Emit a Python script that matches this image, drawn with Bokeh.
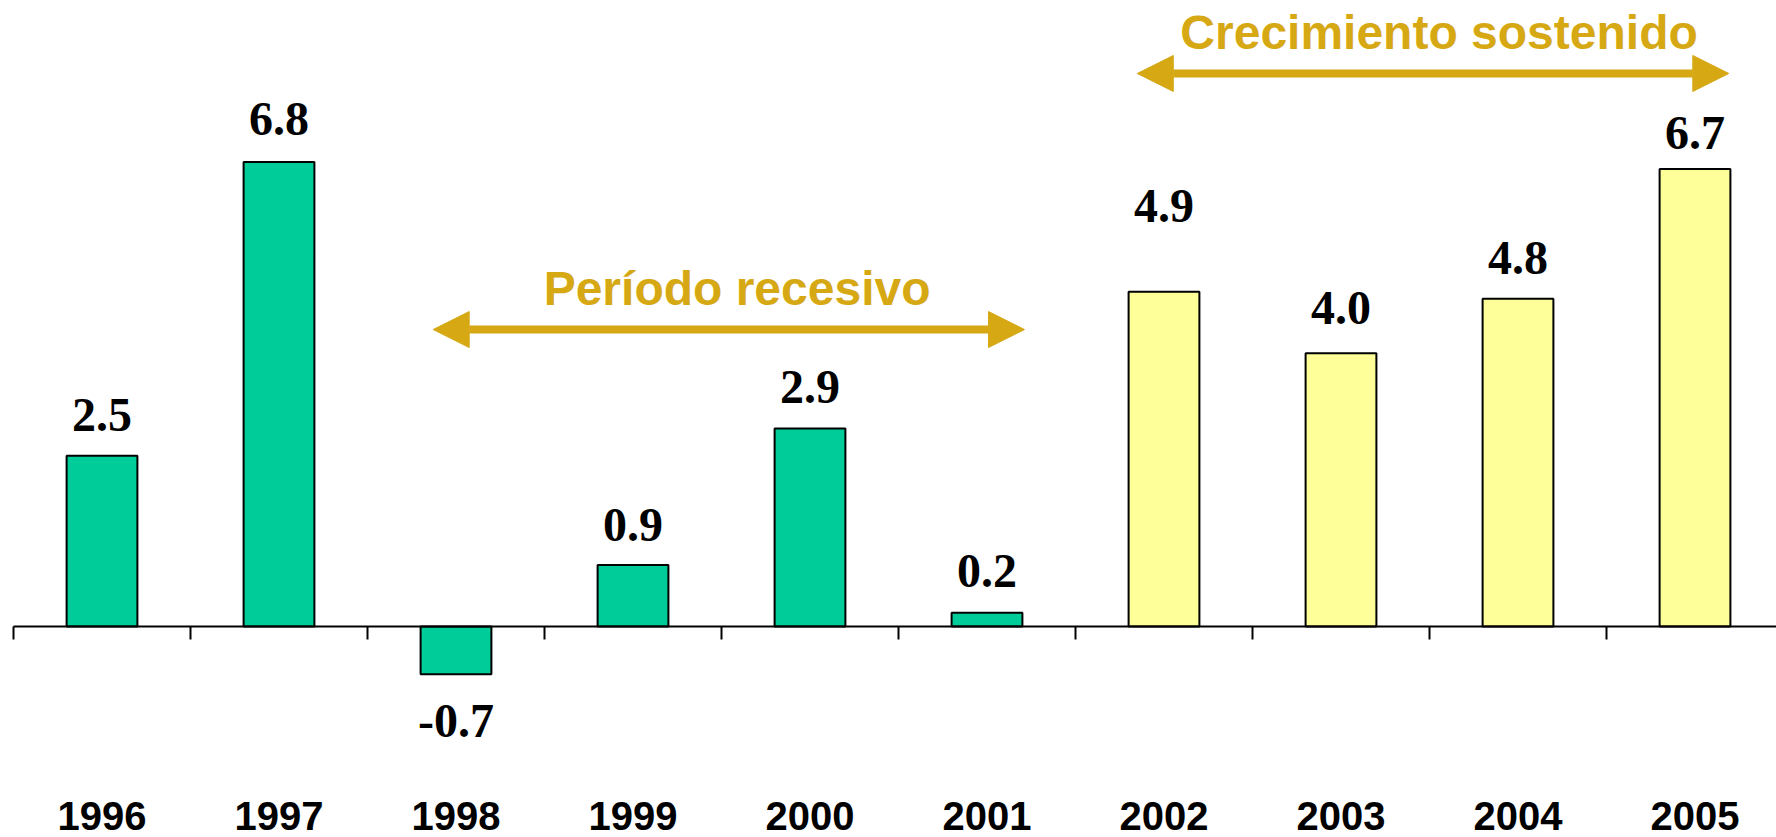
from bokeh.plotting import figure
from bokeh.models import Range1d, Arrow, NormalHead, ColumnDataSource
from bokeh.core.properties import value
from bokeh.embed import file_html
from bokeh.resources import INLINE

# ---- data ----
years = ["1996", "1997", "1998", "1999", "2000", "2001", "2002", "2003", "2004", "2005"]
growth = [2.5, 6.8, -0.7, 0.9, 2.9, 0.2, 4.9, 4.0, 4.8, 6.7]
value_labels = ["2.5", "6.8", "-0.7", "0.9", "2.9", "0.2", "4.9", "4.0", "4.8", "6.7"]
# where each value label is centred (data units)
label_y = [3.10, 7.43, -1.38, 1.49, 3.50, 0.81, 6.16, 4.66, 5.40, 7.23]

period_names = ["Período recesivo", "Crecimiento sostenido"]
period_start = [2.371, 6.349]   # in category-index units
period_end = [5.712, 9.691]
period_level = [4.348, 8.097]
period_text_x = [4.088, 8.054]
period_text_y = [4.95, 8.70]

GREEN = "#00CC99"
YELLOW = "#FFFF99"
GOLD = "#D6A814"

x = [i + 0.5 for i in range(len(years))]
colors = [GREEN if int(y) < 2002 else YELLOW for y in years]

W, H = 1776, 837
ZERO_PX = 626        # pixel row of the zero line
LEFT_PX = 13         # pixel column of the first category boundary
CAT_PX = 177         # pixel width of one category
PX_PER_UNIT = 68.3

p = figure(width=W, height=H, output_backend="svg", toolbar_location=None,
           x_range=Range1d(-LEFT_PX / CAT_PX, (W - LEFT_PX) / CAT_PX),
           y_range=Range1d(-(H - ZERO_PX) / PX_PER_UNIT, ZERO_PX / PX_PER_UNIT),
           min_border=0, min_border_left=0, min_border_right=0,
           min_border_top=0, min_border_bottom=0)
p.axis.visible = False
p.grid.visible = False
p.outline_line_color = None
p.background_fill_color = "white"
p.border_fill_color = "white"

src = ColumnDataSource(dict(x=x, top=growth, color=colors, lbl=value_labels,
                            ly=label_y, years=years))

# bars
p.vbar(x="x", top="top", bottom=0, width=0.4, fill_color="color",
       line_color="black", line_width=2, source=src)

# baseline + category boundary ticks
n = len(years)
p.segment(x0=[0], y0=[0], x1=[n], y1=[0], line_color="black", line_width=2)
tick_len = 13 / PX_PER_UNIT
p.segment(x0=list(range(n)), y0=[0] * n, x1=list(range(n)), y1=[-tick_len] * n,
          line_color="black", line_width=2)

# value labels
p.text(x="x", y="ly", text="lbl", source=src, text_align="center",
       text_baseline="middle", text_font=value("Liberation Serif"),
       text_font_style="bold", text_font_size="48px", text_color="black")

# year labels
year_y = [-(815 - ZERO_PX) / PX_PER_UNIT] * n
p.text(x=x, y=year_y, text=years, text_align="center", text_baseline="middle",
       text_font=value("Liberation Sans"), text_font_style="bold",
       text_font_size="40px", text_color="black")

# period arrows + titles
for i in range(len(period_names)):
    p.add_layout(Arrow(
        start=NormalHead(size=36, fill_color=GOLD, line_color=GOLD, line_width=1),
        end=NormalHead(size=36, fill_color=GOLD, line_color=GOLD, line_width=1),
        x_start=period_start[i], y_start=period_level[i],
        x_end=period_end[i], y_end=period_level[i],
        line_color=GOLD, line_width=8))
p.text(x=period_text_x, y=period_text_y, text=period_names, text_align="center",
       text_baseline="middle", text_font=value("Liberation Sans"),
       text_font_style="bold", text_font_size="48px", text_color=GOLD)

open("out.html", "w").write(file_html(p, INLINE))
